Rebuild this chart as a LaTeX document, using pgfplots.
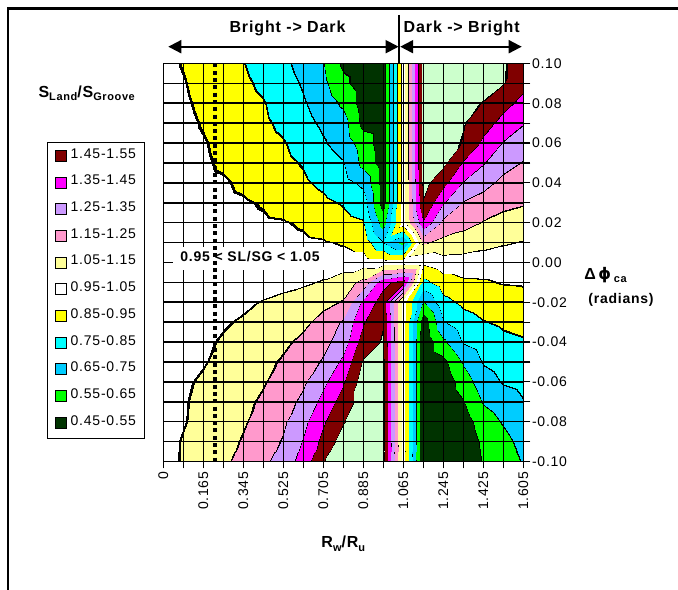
\documentclass[border=0pt]{standalone}
\usepackage{fontspec}
\setmainfont{Liberation Sans}[LetterSpace=5.5]
\newfontfamily\dejavu{DejaVu Sans}
\usepackage{pgfplots}
\pgfplotsset{compat=1.18}
\usetikzlibrary{arrows.meta}
\newcommand{\fsz}[1]{\fontsize{#1}{#1}\selectfont}
\definecolor{cDkGreen}{RGB}{0,51,0}
\definecolor{cGreen}{RGB}{0,255,0}
\definecolor{cSky}{RGB}{0,204,255}
\definecolor{cCyan}{RGB}{0,255,255}
\definecolor{cYellow}{RGB}{255,255,0}
\definecolor{cLtYellow}{RGB}{255,255,153}
\definecolor{cPink}{RGB}{255,153,204}
\definecolor{cLilac}{RGB}{204,153,255}
\definecolor{cMagenta}{RGB}{255,0,255}
\definecolor{cBrown}{RGB}{128,0,0}
\definecolor{cLtGreen}{RGB}{204,255,204}
\begin{document}
\begin{tikzpicture}[x=1bp,y=1bp]
\path[use as bounding box] (0,0) rectangle (678,590);
\begin{axis}[
  at={(163.3bp,128.5bp)}, anchor=south west,
  scale only axis, width=360bp, height=398bp,
  xmin=0, xmax=18, ymin=-0.1, ymax=0.1,
  enlargelimits=false,
  point meta min=0.40, point meta max=1.70,
  colormap={excel}{
    rgb255(0.400cm)=(0,51,0)
    rgb255(0.548cm)=(0,0,0)
    rgb255(0.552cm)=(0,255,0)
    rgb255(0.648cm)=(0,0,0)
    rgb255(0.652cm)=(0,204,255)
    rgb255(0.748cm)=(0,0,0)
    rgb255(0.752cm)=(0,255,255)
    rgb255(0.848cm)=(0,0,0)
    rgb255(0.852cm)=(255,255,0)
    rgb255(0.948cm)=(0,0,0)
    rgb255(0.952cm)=(255,255,255)
    rgb255(1.048cm)=(0,0,0)
    rgb255(1.052cm)=(255,255,153)
    rgb255(1.148cm)=(0,0,0)
    rgb255(1.152cm)=(255,153,204)
    rgb255(1.248cm)=(0,0,0)
    rgb255(1.252cm)=(204,153,255)
    rgb255(1.348cm)=(0,0,0)
    rgb255(1.352cm)=(255,0,255)
    rgb255(1.448cm)=(0,0,0)
    rgb255(1.452cm)=(128,0,0)
    rgb255(1.548cm)=(0,0,0)
    rgb255(1.552cm)=(204,255,204)
    rgb255(1.700cm)=(204,255,204)
  },
  colormap access=piecewise constant,
  axis on top,
  xtick={0,2,4,6,8,10,12,14,16,18},
  minor xtick={1,3,5,7,9,11,13,15,17},
  xticklabels={0,0.165,0.345,0.525,0.705,0.885,1.065,1.245,1.425,1.605},
  ytick={-0.1,-0.08,-0.06,-0.04,-0.02,0,0.02,0.04,0.06,0.08,0.1},
  minor ytick={-0.09,-0.07,-0.05,-0.03,-0.01,0.01,0.03,0.05,0.07,0.09},
  yticklabels={-0.10,-0.08,-0.06,-0.04,-0.02,0.00,0.02,0.04,0.06,0.08,0.10},
  grid=both,
  major grid style={black, line width=1.6bp},
  minor grid style={black, line width=1.6bp},
  axis line style={black, line width=1.6bp},
  tick align=outside,
  major tick length=7bp, minor tick length=7bp,
  every tick/.style={black, line width=1.2bp},
  xtick pos=left, ytick pos=right,
  xticklabel pos=left, yticklabel pos=right,
  tick label style={font=\fsz{14bp}},
  xticklabel style={rotate=90, anchor=east, inner sep=3bp},
  yticklabel style={anchor=west, inner sep=1.5bp},
]
\addplot[surf, shader=interp, point meta=explicit, mesh/cols=19] coordinates {
(0,0.10)[0.98] (1,0.10)[0.945] (2,0.10)[0.916] (3,0.10)[0.885] (4,0.10)[0.853] (5,0.10)[0.8125] (6,0.10)[0.771] (7,0.10)[0.717] (8,0.10)[0.655] (9,0.10)[0.53] (10,0.10)[0.5] (11,0.10)[0.5] (12,0.10)[1.0] (13,0.10)[1.6] (14,0.10)[1.65] (15,0.10)[1.65] (16,0.10)[1.62] (17,0.10)[1.556] (18,0.10)[1.52]
(0,0.09)[0.98] (1,0.09)[0.955] (2,0.09)[0.924] (3,0.09)[0.896] (4,0.09)[0.867] (5,0.09)[0.832] (6,0.09)[0.788] (7,0.09)[0.74] (8,0.09)[0.673] (9,0.09)[0.574] (10,0.09)[0.5] (11,0.09)[0.5] (12,0.09)[1.0] (13,0.09)[1.6] (14,0.09)[1.64] (15,0.09)[1.62] (16,0.09)[1.59] (17,0.09)[1.555] (18,0.09)[1.48]
(0,0.08)[0.99] (1,0.08)[0.962] (2,0.08)[0.934] (3,0.08)[0.907] (4,0.08)[0.88] (5,0.08)[0.856] (6,0.08)[0.807] (7,0.08)[0.76] (8,0.08)[0.703] (9,0.08)[0.633] (10,0.08)[0.5] (11,0.08)[0.5] (12,0.08)[1.0] (13,0.08)[1.6] (14,0.08)[1.63] (15,0.08)[1.58] (16,0.08)[1.545] (17,0.08)[1.483] (18,0.08)[1.42]
(0,0.07)[0.99] (1,0.07)[0.97] (2,0.07)[0.944] (3,0.07)[0.918] (4,0.07)[0.892] (5,0.07)[0.866] (6,0.07)[0.83] (7,0.07)[0.782] (8,0.07)[0.732] (9,0.07)[0.69] (10,0.07)[0.52] (11,0.07)[0.5] (12,0.07)[1.0] (13,0.07)[1.6] (14,0.07)[1.61] (15,0.07)[1.556] (16,0.07)[1.491] (17,0.07)[1.417] (18,0.07)[1.356]
(0,0.06)[0.99] (1,0.06)[0.976] (2,0.06)[0.956] (3,0.06)[0.929] (4,0.06)[0.905] (5,0.06)[0.881] (6,0.06)[0.857] (7,0.06)[0.813] (8,0.06)[0.76] (9,0.06)[0.71] (10,0.06)[0.60] (11,0.06)[0.5] (12,0.06)[1.0] (13,0.06)[1.6] (14,0.06)[1.58] (15,0.06)[1.544] (16,0.06)[1.43] (17,0.06)[1.344] (18,0.06)[1.30]
(0,0.05)[0.99] (1,0.05)[0.98] (2,0.05)[0.962] (3,0.05)[0.938] (4,0.05)[0.916] (5,0.05)[0.894] (6,0.05)[0.872] (7,0.05)[0.844] (8,0.05)[0.80] (9,0.05)[0.757] (10,0.05)[0.62] (11,0.05)[0.5] (12,0.05)[1.0] (13,0.05)[1.6] (14,0.05)[1.57] (15,0.05)[1.44] (16,0.05)[1.357] (17,0.05)[1.283] (18,0.05)[1.243]
(0,0.04)[1.0] (1,0.04)[0.99] (2,0.04)[0.97] (3,0.04)[0.96] (4,0.04)[0.935] (5,0.04)[0.911] (6,0.04)[0.888] (7,0.04)[0.864] (8,0.04)[0.832] (9,0.04)[0.788] (10,0.04)[0.73] (11,0.04)[0.5] (12,0.04)[1.0] (13,0.04)[1.58] (14,0.04)[1.48] (15,0.04)[1.343] (16,0.04)[1.28] (17,0.04)[1.224] (18,0.04)[1.197]
(0,0.03)[1.0] (1,0.03)[0.995] (2,0.03)[0.985] (3,0.03)[0.97] (4,0.03)[0.96] (5,0.03)[0.944] (6,0.03)[0.92] (7,0.03)[0.895] (8,0.03)[0.87] (9,0.03)[0.843] (10,0.03)[0.80] (11,0.03)[0.5] (12,0.03)[1.0] (13,0.03)[1.544] (14,0.03)[1.357] (15,0.03)[1.243] (16,0.03)[1.21] (17,0.03)[1.171] (18,0.03)[1.157]
(0,0.02)[1.0] (1,0.02)[1.0] (2,0.02)[0.99] (3,0.02)[0.98] (4,0.02)[0.97] (5,0.02)[0.962] (6,0.02)[0.957] (7,0.02)[0.94] (8,0.02)[0.91] (9,0.02)[0.88] (10,0.02)[0.86] (11,0.02)[0.6] (12,0.02)[1.0] (13,0.02)[1.44] (14,0.02)[1.22] (15,0.02)[1.18] (16,0.02)[1.143] (17,0.02)[1.12] (18,0.02)[1.10]
(0,0.01)[1.0] (1,0.01)[1.0] (2,0.01)[1.0] (3,0.01)[0.995] (4,0.01)[0.99] (5,0.01)[0.98] (6,0.01)[0.975] (7,0.01)[0.967] (8,0.01)[0.96] (9,0.01)[0.943] (10,0.01)[0.91] (11,0.01)[0.757] (12,0.01)[0.62] (13,0.01)[1.16] (14,0.01)[1.12] (15,0.01)[1.10] (16,0.01)[1.077] (17,0.01)[1.057] (18,0.01)[1.043]
(0,0.00)[1.0] (1,0.00)[1.0] (2,0.00)[1.0] (3,0.00)[1.0] (4,0.00)[1.0] (5,0.00)[1.0] (6,0.00)[1.0] (7,0.00)[1.0] (8,0.00)[1.0] (9,0.00)[1.0] (10,0.00)[1.0] (11,0.00)[0.99] (12,0.00)[1.0] (13,0.00)[0.97] (14,0.00)[1.012] (15,0.00)[1.01] (16,0.00)[1.007] (17,0.00)[1.003] (18,0.00)[1.0]
(0,-0.01)[0.96] (1,-0.01)[0.965] (2,-0.01)[0.97] (3,-0.01)[0.98] (4,-0.01)[0.99] (5,-0.01)[1.0] (6,-0.01)[1.02] (7,-0.01)[1.035] (8,-0.01)[1.058] (9,-0.01)[1.10] (10,-0.01)[1.18] (11,-0.01)[1.42] (12,-0.01)[1.5] (13,-0.01)[0.82] (14,-0.01)[0.905] (15,-0.01)[0.934] (16,-0.01)[0.94] (17,-0.01)[0.956] (18,-0.01)[0.959]
(0,-0.02)[0.97] (1,-0.02)[0.98] (2,-0.02)[0.995] (3,-0.02)[1.01] (4,-0.02)[1.03] (5,-0.02)[1.057] (6,-0.02)[1.077] (7,-0.02)[1.101] (8,-0.02)[1.126] (9,-0.02)[1.157] (10,-0.02)[1.37] (11,-0.02)[1.5] (12,-0.02)[1.0] (13,-0.02)[0.64] (14,-0.02)[0.821] (15,-0.02)[0.87] (16,-0.02)[0.893] (17,-0.02)[0.907] (18,-0.02)[0.918]
(0,-0.03)[0.98] (1,-0.03)[0.995] (2,-0.03)[1.015] (3,-0.03)[1.04] (4,-0.03)[1.062] (5,-0.03)[1.085] (6,-0.03)[1.108] (7,-0.03)[1.131] (8,-0.03)[1.181] (9,-0.03)[1.264] (10,-0.03)[1.44] (11,-0.03)[1.544] (12,-0.03)[1.0] (13,-0.03)[0.48] (14,-0.03)[0.743] (15,-0.03)[0.81] (16,-0.03)[0.845] (17,-0.03)[0.864] (18,-0.03)[0.878]
(0,-0.04)[0.99] (1,-0.04)[1.01] (2,-0.04)[1.035] (3,-0.04)[1.06] (4,-0.04)[1.085] (5,-0.04)[1.11] (6,-0.04)[1.135] (7,-0.04)[1.17] (8,-0.04)[1.22] (9,-0.04)[1.30] (10,-0.04)[1.50] (11,-0.04)[1.56] (12,-0.04)[1.0] (13,-0.04)[0.46] (14,-0.04)[0.628] (15,-0.04)[0.757] (16,-0.04)[0.80] (17,-0.04)[0.828] (18,-0.04)[0.84]
(0,-0.05)[1.0] (1,-0.05)[1.024] (2,-0.05)[1.043] (3,-0.05)[1.076] (4,-0.05)[1.103] (5,-0.05)[1.129] (6,-0.05)[1.16] (7,-0.05)[1.207] (8,-0.05)[1.261] (9,-0.05)[1.375] (10,-0.05)[1.56] (11,-0.05)[1.58] (12,-0.05)[1.0] (13,-0.05)[0.46] (14,-0.05)[0.52] (15,-0.05)[0.66] (16,-0.05)[0.757] (17,-0.05)[0.79] (18,-0.05)[0.808]
(0,-0.06)[1.01] (1,-0.06)[1.036] (2,-0.06)[1.0635] (3,-0.06)[1.091] (4,-0.06)[1.118] (5,-0.06)[1.143] (6,-0.06)[1.188] (7,-0.06)[1.236] (8,-0.06)[1.328] (9,-0.06)[1.439] (10,-0.06)[1.6] (11,-0.06)[1.58] (12,-0.06)[1.0] (13,-0.06)[0.46] (14,-0.06)[0.48] (15,-0.06)[0.597] (16,-0.06)[0.705] (17,-0.06)[0.757] (18,-0.06)[0.776]
(0,-0.07)[1.014] (1,-0.07)[1.043] (2,-0.07)[1.072] (3,-0.07)[1.101] (4,-0.07)[1.13] (5,-0.07)[1.164] (6,-0.07)[1.212] (7,-0.07)[1.272] (8,-0.07)[1.383] (9,-0.07)[1.494] (10,-0.07)[1.6] (11,-0.07)[1.58] (12,-0.07)[1.0] (13,-0.07)[0.46] (14,-0.07)[0.47] (15,-0.07)[0.543] (16,-0.07)[0.657] (17,-0.07)[0.70] (18,-0.07)[0.744]
(0,-0.08)[1.018] (1,-0.08)[1.044] (2,-0.08)[1.079] (3,-0.08)[1.11] (4,-0.08)[1.141] (5,-0.08)[1.185] (6,-0.08)[1.235] (7,-0.08)[1.324] (8,-0.08)[1.438] (9,-0.08)[1.544] (10,-0.08)[1.6] (11,-0.08)[1.58] (12,-0.08)[1.0] (13,-0.08)[0.46] (14,-0.08)[0.47] (15,-0.08)[0.5] (16,-0.08)[0.60] (17,-0.08)[0.657] (18,-0.08)[0.713]
(0,-0.09)[1.02] (1,-0.09)[1.057] (2,-0.09)[1.087] (3,-0.09)[1.12] (4,-0.09)[1.158] (5,-0.09)[1.205] (6,-0.09)[1.259] (7,-0.09)[1.357] (8,-0.09)[1.479] (9,-0.09)[1.6] (10,-0.09)[1.6] (11,-0.09)[1.58] (12,-0.09)[1.0] (13,-0.09)[0.46] (14,-0.09)[0.47] (15,-0.09)[0.48] (16,-0.09)[0.57] (17,-0.09)[0.62] (18,-0.09)[0.68]
(0,-0.10)[1.02] (1,-0.10)[1.0575] (2,-0.10)[1.095] (3,-0.10)[1.133] (4,-0.10)[1.1775] (5,-0.10)[1.2275] (6,-0.10)[1.294] (7,-0.10)[1.39] (8,-0.10)[1.544] (9,-0.10)[1.6] (10,-0.10)[1.6] (11,-0.10)[1.58] (12,-0.10)[1.0] (13,-0.10)[0.46] (14,-0.10)[0.47] (15,-0.10)[0.47] (16,-0.10)[0.557] (17,-0.10)[0.60] (18,-0.10)[0.657]
};
\end{axis}
% white label box inside the plot
\fill[white] (173,320) rectangle (343,343);
\node[anchor=base, inner sep=0, font=\fsz{14bp}\bfseries] at (250,328.3) {0.95 < SL/SG < 1.05};
% overlay axis for the dotted reference line
\begin{axis}[
  at={(163.3bp,128.5bp)}, anchor=south west,
  scale only axis, width=360bp, height=398bp,
  xmin=0, xmax=18, ymin=-0.1, ymax=0.1, hide axis,
]
\addplot[black, line width=4.4bp, dash pattern=on 4bp off 3.3bp] coordinates {(2.585,0.1) (2.585,-0.1)};
\end{axis}
% chart border (left and top), drawn last
\fill[black] (6.8,0) rectangle (8.8,582.8);
\fill[black] (6.8,580.3) rectangle (678,582.8);
% top arrows and divider
\draw[black, line width=2bp] (399.3,575) -- (399.3,527);
\draw[black, line width=2bp, {Triangle[length=13bp,width=13bp]}-{Triangle[length=13bp,width=13bp]}] (168.3,543.3) -- (398.6,543.3);
\draw[black, line width=2bp, {Triangle[length=13bp,width=13bp]}-{Triangle[length=13bp,width=13bp]}] (400.2,543.3) -- (521.7,543.3);
\node[anchor=base, inner sep=0, font=\fsz{16bp}\bfseries] at (287.5,557.7) {Bright -> Dark};
\node[anchor=base, inner sep=0, font=\fsz{16bp}\bfseries] at (461.7,557.7) {Dark -> Bright};
% titles
\node[anchor=base, inner sep=0, font=\fsz{16bp}\bfseries] at (86.7,492.7) {S\raisebox{-3.5bp}{\fsz{11bp}Land}/S\raisebox{-3.5bp}{\fsz{11bp}Groove}};
\node[anchor=base, inner sep=0, font=\fsz{16bp}\bfseries] at (343.3,42.7) {R\raisebox{-4bp}{\fsz{11bp}w}/R\raisebox{-4bp}{\fsz{11bp}u}};
\node[anchor=base, inner sep=0, font=\fsz{16bp}\bfseries] at (605.5,310) {Δ\,{\dejavu\bfseries ϕ}\,\raisebox{-2.5bp}{\fsz{11bp}ca}};
\node[anchor=base, inner sep=0, font=\fsz{14bp}\bfseries] at (621,286.7) {(radians)};
% legend
\draw[black, line width=0.8bp] (47.7,152) rectangle (144,447.3);
\foreach \c/\t [count=\k from 0] in {cBrown/1.45-1.55, cMagenta/1.35-1.45, cLilac/1.25-1.35, cPink/1.15-1.25, cLtYellow/1.05-1.15, white/0.95-1.05, cYellow/0.85-0.95, cCyan/0.75-0.85, cSky/0.65-0.75, cGreen/0.55-0.65, cDkGreen/0.45-0.55}{
  \pgfmathsetmacro\yy{434-26.67*\k}
  \draw[black, line width=0.8bp, fill=\c] (55,\yy-5.5) rectangle (66,\yy+5.5);
  \node[anchor=west, inner sep=0, font=\fsz{14bp}] at (70.5,\yy+2.5) {\t};
}
\end{tikzpicture}
\end{document}
